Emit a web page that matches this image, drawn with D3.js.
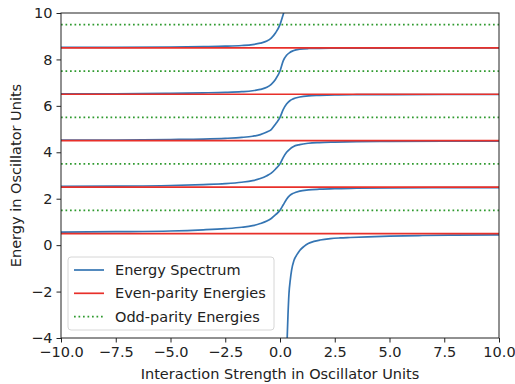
<!DOCTYPE html>
<html lang="en">
<head>
  <meta charset="UTF-8">
  <title>Energy Spectrum</title>
  <script src="https://d3js.org/d3.v7.min.js"></script>
  <style>
    body { margin: 0; padding: 0; background: #fff; }
    svg { display: block; font-family: 'DejaVu Sans', sans-serif; }
  </style>
</head>
<body>
  <svg id="chart"></svg>
  <script>
    // interaction strength samples (shared by the sigmoid branches)
    const strength = [-10, -7.5, -5, -3.5, -2.5, -1.75, -1.25, -0.9, -0.6, -0.4, -0.2, 0,
                      0.15, 0.3, 0.45, 0.6, 0.9, 1.3, 1.8, 2.5, 3.5, 5, 7.5, 10];

    // energies, one array per branch
    const branch0 = [0.56, 0.58, 0.61, 0.66, 0.71, 0.77, 0.84, 0.93, 1.04, 1.15, 1.31, 1.5,
                     1.74, 1.98, 2.14, 2.23, 2.33, 2.38, 2.41, 2.435, 2.45, 2.465, 2.475, 2.48];
    const branch1 = [2.53, 2.54, 2.57, 2.61, 2.65, 2.71, 2.78, 2.87, 2.99, 3.1, 3.28, 3.5,
                     3.78, 4.0, 4.14, 4.24, 4.33, 4.39, 4.42, 4.44, 4.46, 4.47, 4.48, 4.485];
    const branch2 = [4.52, 4.53, 4.55, 4.57, 4.6, 4.64, 4.69, 4.76, 4.87, 4.98, 5.22, 5.5,
                     5.85, 6.08, 6.22, 6.3, 6.38, 6.43, 6.45, 6.47, 6.48, 6.485, 6.49, 6.49];
    const branch3 = [6.52, 6.52, 6.54, 6.56, 6.58, 6.61, 6.65, 6.71, 6.8, 6.93, 7.15, 7.5,
                     7.95, 8.18, 8.3, 8.37, 8.44, 8.47, 8.48, 8.485, 8.49, 8.49, 8.495, 8.495];
    const branch4 = [8.52, 8.52, 8.53, 8.55, 8.57, 8.6, 8.64, 8.7, 8.79, 8.92, 9.15, 9.5,
                     9.95, 10.4, 10.8, 11, 11.2, 11.3, 11.4, 11.4, 11.45, 11.45, 11.5, 11.5];

    // the bound state branch
    const boundStrength = [0.31, 0.33, 0.365, 0.41, 0.47, 0.53, 0.64, 0.78, 0.91, 1.1, 1.29,
                           1.55, 1.83, 2.3, 2.74, 3.2, 4, 5, 6.5, 8, 10];
    const boundEnergy = [-4.5, -3.94, -3.0, -2.08, -1.5, -1.08, -0.65, -0.4, -0.22, -0.05, 0.07,
                         0.16, 0.22, 0.28, 0.31, 0.33, 0.36, 0.39, 0.415, 0.43, 0.445];

    const evenEnergies = [0.5, 2.5, 4.5, 6.5, 8.5];
    const oddEnergies = [1.5, 3.5, 5.5, 7.5, 9.5];

    const xTicks = [-10, -7.5, -5, -2.5, 0, 2.5, 5, 7.5, 10];
    const yTicks = [-4, -2, 0, 2, 4, 6, 8, 10];

    const width = 515, height = 384;
    const margin = { left: 61, right: 16, top: 13, bottom: 46 };
    const blue = "#3575b3", red = "#e8302a", green = "#2f9a2f";
    const fontSize = 14.5;

    const svg = d3.select("#chart").attr("width", width).attr("height", height);

    const x = d3.scaleLinear().domain([-10, 10]).range([margin.left, width - margin.right]);
    const y = d3.scaleLinear().domain([-4, 10]).range([height - margin.bottom, margin.top]);

    svg.append("clipPath").attr("id", "plot-clip")
      .append("rect")
      .attr("x", x(-10)).attr("y", y(10))
      .attr("width", x(10) - x(-10)).attr("height", y(-4) - y(10));

    const plot = svg.append("g").attr("clip-path", "url(#plot-clip)");

    const line = d3.line().x(d => x(d[0])).y(d => y(d[1])).curve(d3.curveMonotoneX);

    // blue spectrum
    [branch0, branch1, branch2, branch3, branch4].forEach(b => {
      plot.append("path")
        .datum(strength.map((s, i) => [s, b[i]]))
        .attr("d", line)
        .attr("fill", "none").attr("stroke", blue).attr("stroke-width", 1.7);
    });
    plot.append("path")
      .datum(boundStrength.map((s, i) => [s, boundEnergy[i]]))
      .attr("d", line)
      .attr("fill", "none").attr("stroke", blue).attr("stroke-width", 1.7);

    // even parity levels
    plot.selectAll(".even").data(evenEnergies).enter().append("line")
      .attr("x1", x(-10)).attr("x2", x(10))
      .attr("y1", d => y(d)).attr("y2", d => y(d))
      .attr("stroke", red).attr("stroke-width", 1.7);

    // odd parity levels
    plot.selectAll(".odd").data(oddEnergies).enter().append("line")
      .attr("x1", x(-10)).attr("x2", x(10))
      .attr("y1", d => y(d)).attr("y2", d => y(d))
      .attr("stroke", green).attr("stroke-width", 1.7)
      .attr("stroke-dasharray", "1.7,2.8");

    // axes
    const fmtX = d => d3.format(".1f")(d).replace("-", "\u2212");
    const fmtY = d => String(d).replace("-", "\u2212");

    const xAxis = svg.append("g")
      .attr("transform", `translate(0,${y(-4)})`)
      .call(d3.axisBottom(x).tickValues(xTicks).tickFormat(fmtX).tickSize(4.5).tickPadding(4));
    const yAxis = svg.append("g")
      .attr("transform", `translate(${x(-10)},0)`)
      .call(d3.axisLeft(y).tickValues(yTicks).tickFormat(fmtY).tickSize(4.5).tickPadding(4));

    [xAxis, yAxis].forEach(a => {
      a.select(".domain").remove();
      a.selectAll("text").attr("font-size", fontSize).attr("fill", "#222")
        .attr("font-family", "'DejaVu Sans', sans-serif");
      a.selectAll("line").attr("stroke", "#222").attr("stroke-width", 1);
    });

    // frame
    svg.append("rect")
      .attr("x", x(-10)).attr("y", y(10))
      .attr("width", x(10) - x(-10)).attr("height", y(-4) - y(10))
      .attr("fill", "none").attr("stroke", "#222").attr("stroke-width", 1);

    // axis labels
    svg.append("text")
      .attr("x", (x(-10) + x(10)) / 2).attr("y", 379)
      .attr("text-anchor", "middle").attr("font-size", fontSize).attr("fill", "#222")
      .text("Interaction Strength in Oscillator Units");
    svg.append("text")
      .attr("transform", `translate(21,${(y(-4) + y(10)) / 2}) rotate(-90)`)
      .attr("text-anchor", "middle").attr("font-size", fontSize).attr("fill", "#222")
      .text("Energy in Oscillator Units");

    // legend
    const legend = svg.append("g").attr("transform", "translate(68,257)");
    legend.append("rect")
      .attr("width", 206).attr("height", 73).attr("rx", 3)
      .attr("fill", "#fff").attr("fill-opacity", 0.8)
      .attr("stroke", "#d6d6d6").attr("stroke-width", 1);

    const entries = [
      { label: "Energy Spectrum", color: blue, dash: null },
      { label: "Even-parity Energies", color: red, dash: null },
      { label: "Odd-parity Energies", color: green, dash: "1.7,2.8" }
    ];
    entries.forEach((e, i) => {
      const cy = 13 + i * 23.3;
      legend.append("line")
        .attr("x1", 6).attr("x2", 36).attr("y1", cy).attr("y2", cy)
        .attr("stroke", e.color).attr("stroke-width", 1.7)
        .attr("stroke-dasharray", e.dash);
      legend.append("text")
        .attr("x", 47).attr("y", cy + 5)
        .attr("font-size", fontSize).attr("fill", "#222")
        .text(e.label);
    });
  </script>
</body>
</html>
